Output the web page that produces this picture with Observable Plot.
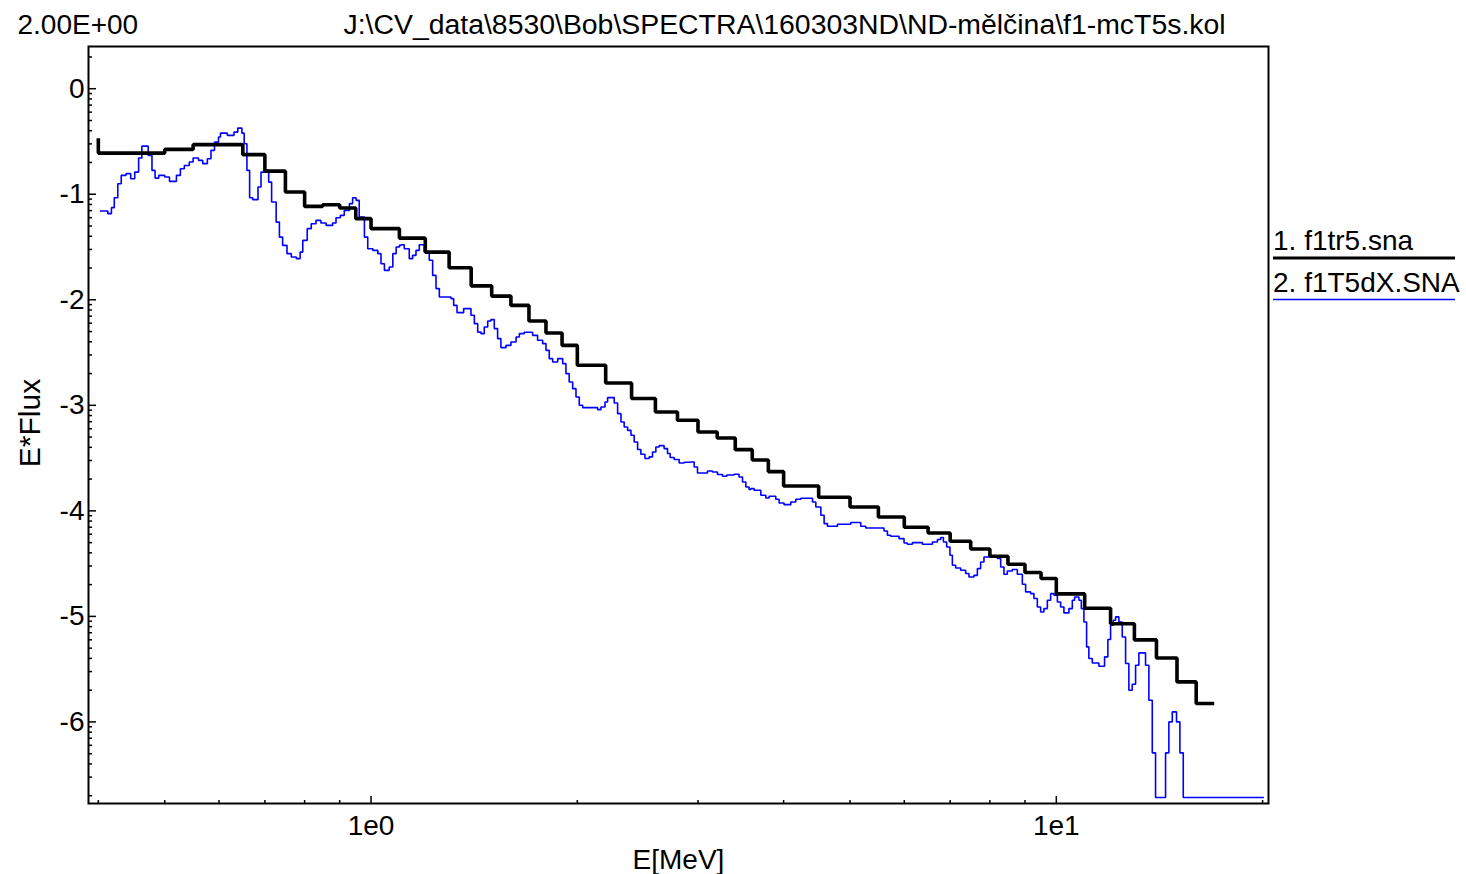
<!DOCTYPE html>
<html><head><meta charset="utf-8">
<script src="https://cdn.jsdelivr.net/npm/d3@7"></script>
<script src="https://cdn.jsdelivr.net/npm/@observablehq/plot@0.6"></script>
<style>html,body{margin:0;padding:0;background:#fff;}#chart{width:1466px;height:874px;}</style>
</head><body><div id="chart"></div>
<script>
// ---- text ----
const scaleText = "2.00E+00";
const titleText = "J:\\CV_data\\8530\\Bob\\SPECTRA\\160303ND\\ND-mělčina\\f1-mcT5s.kol";
const xLabel = "E[MeV]";
const yLabel = "E*Flux";
const seriesNames = ["1. f1tr5.sna", "2. f1T5dX.SNA"];
const seriesColors = ["#000000", "#0000ff"];

// ---- ticks ----
const xMajorTicks = [1, 10];
const xMinorTicks = [0.4, 0.5, 0.6, 0.7, 0.8, 0.9, 2, 3, 4, 5, 6, 7, 8, 9, 20];
const yMajorTicks = [0, -1, -2, -3, -4, -5, -6];
const xDomain = [0.387, 20.4];
const yDomain = [-6.773, 0.40];

// ---- series 1 (black, group edges in MeV, log10 values) ----
const blackEdges = [0.40, 0.40, 0.50, 0.55, 0.65, 0.70, 0.75, 0.80, 0.85, 0.90, 0.95,
  1.0, 1.1, 1.2, 1.3, 1.4, 1.5, 1.6, 1.7, 1.8, 1.9,
  2.0, 2.2, 2.4, 2.6, 2.8, 3.0, 3.2, 3.4, 3.6, 3.8,
  4.0, 4.5, 5.0, 5.5, 6.0, 6.5, 7.0, 7.5, 8.0, 8.5,
  9.0, 9.5, 10, 11, 12, 13, 14, 15, 16, 17];
const blackValues = [-0.47, -0.61, -0.575, -0.53, -0.625, -0.781, -0.979, -1.115, -1.099, -1.131,
  -1.231, -1.326, -1.416, -1.548, -1.697, -1.868, -1.965, -2.053, -2.201, -2.315,
  -2.432, -2.621, -2.789, -2.936, -3.063, -3.142, -3.253, -3.31, -3.42, -3.518,
  -3.628, -3.764, -3.871, -3.963, -4.058, -4.156, -4.21, -4.288, -4.361, -4.43,
  -4.506, -4.584, -4.641, -4.787, -4.923, -5.07, -5.223, -5.394, -5.621, -5.826];

// ---- series 2 (blue, step starts in MeV, log10 values) ----
const blueE = [0.402, 0.413, 0.418, 0.422, 0.427, 0.432, 0.439, 0.446, 0.452, 0.458,
  0.463, 0.473, 0.479, 0.484, 0.490, 0.500, 0.508, 0.520, 0.527, 0.534,
  0.543, 0.550, 0.560, 0.568, 0.577, 0.584, 0.591, 0.599, 0.603, 0.617,
  0.631, 0.639, 0.648, 0.653, 0.659, 0.665, 0.672, 0.684, 0.691, 0.699,
  0.709, 0.716, 0.727, 0.735, 0.743, 0.754, 0.765, 0.778, 0.788, 0.795,
  0.807, 0.818, 0.831, 0.845, 0.860, 0.879, 0.889, 0.902, 0.914, 0.930,
  0.940, 0.951, 0.961, 0.978, 0.989, 1.006, 1.023, 1.034, 1.046, 1.063,
  1.076, 1.088, 1.100,
  1.106, 1.118, 1.137, 1.150, 1.163, 1.176, 1.196, 1.216, 1.230, 1.244,
  1.258, 1.308, 1.320, 1.335, 1.365, 1.399, 1.415, 1.431, 1.447, 1.463,
  1.480, 1.496, 1.513, 1.530, 1.547, 1.574, 1.600, 1.628, 1.646, 1.673,
  1.721, 1.750, 1.780, 1.800, 1.820, 1.841, 1.872, 1.904, 1.925, 1.946,
  1.969, 1.991, 2.013, 2.036, 2.141, 2.165, 2.195, 2.214, 2.264, 2.290,
  2.316, 2.341, 2.368, 2.395, 2.421, 2.449, 2.476, 2.510, 2.546, 2.575,
  2.604, 2.633, 2.677, 2.708, 2.732, 2.769, 2.816, 2.864, 2.929, 2.962,
  2.995, 3.097, 3.150, 3.203, 3.258, 3.305, 3.387, 3.444, 3.484, 3.523,
  3.562,
  3.583, 3.622, 3.705, 3.768, 3.810, 3.896, 3.940, 4.006, 4.098, 4.167,
  4.238, 4.408, 4.457, 4.533, 4.583, 4.635, 4.793, 5.012, 5.183, 5.271,
  5.605, 5.669, 5.733, 5.895, 5.995, 6.063, 6.166, 6.377, 6.595, 6.707,
  6.781, 6.843, 6.918, 6.995, 7.052, 7.130, 7.251, 7.374, 7.456, 7.582,
  7.670, 7.755, 7.842, 7.975, 8.204,
  8.295, 8.387, 8.482, 8.626, 8.772, 8.921, 9.020, 9.173, 9.275, 9.382,
  9.487, 9.592, 9.703, 9.811, 9.920, 10.035, 10.146, 10.259, 10.433, 10.552,
  10.634, 10.789, 10.877, 10.972, 11.071, 11.156, 11.285, 11.537, 11.760, 11.891,
  12.000, 12.109, 12.204, 12.340, 12.480, 12.621, 12.761, 12.906, 13.052, 13.197,
  13.496, 13.648, 13.804, 13.958, 14.435, 14.596, 14.764, 14.977, 15.147, 15.319,
  20.085];
const blueV = [-1.159, -1.184, -1.127, -1.033, -0.900, -0.821, -0.805, -0.853, -0.790, -0.657,
  -0.544, -0.632, -0.774, -0.847, -0.821, -0.837, -0.878, -0.821, -0.758, -0.727,
  -0.695, -0.657, -0.679, -0.710, -0.663, -0.584, -0.506, -0.458, -0.421, -0.442,
  -0.411, -0.373, -0.421, -0.521, -0.774, -1.033, -1.051, -0.932, -0.790, -0.774,
  -0.885, -1.074, -1.264, -1.406, -1.484, -1.563, -1.595, -1.610, -1.548, -1.437,
  -1.326, -1.279, -1.248, -1.273, -1.295, -1.273, -1.222, -1.200, -1.153, -1.089,
  -1.033, -1.058, -1.216, -1.406, -1.516, -1.532, -1.563, -1.658, -1.721, -1.690,
  -1.563, -1.500, -1.484,
  -1.478, -1.516, -1.610, -1.579, -1.532, -1.478, -1.548, -1.626, -1.769, -1.894,
  -1.974, -1.989, -2.053, -2.122, -2.084, -2.147, -2.226, -2.306, -2.321, -2.258,
  -2.201, -2.188, -2.273, -2.368, -2.453, -2.432, -2.400, -2.353, -2.321, -2.308,
  -2.337, -2.384, -2.415, -2.479, -2.558, -2.590, -2.558, -2.605, -2.700, -2.779,
  -2.842, -2.921, -3.000, -3.022, -3.041, -3.016, -2.969, -2.927, -2.978, -3.079,
  -3.158, -3.205, -3.237, -3.284, -3.347, -3.419, -3.464, -3.504, -3.489, -3.442,
  -3.395, -3.382, -3.410, -3.457, -3.495, -3.514, -3.546, -3.540, -3.537, -3.584,
  -3.641, -3.622, -3.632, -3.656, -3.672, -3.660, -3.653, -3.679, -3.726, -3.774,
  -3.798,
  -3.789, -3.805, -3.852, -3.878, -3.862, -3.890, -3.925, -3.941, -3.916, -3.890,
  -3.881, -3.916, -3.963, -4.042, -4.121, -4.146, -4.127, -4.111, -4.146, -4.162,
  -4.191, -4.231, -4.241, -4.263, -4.304, -4.317, -4.301, -4.317, -4.295, -4.272,
  -4.253, -4.295, -4.342, -4.421, -4.515, -4.541, -4.563, -4.594, -4.627, -4.611,
  -4.547, -4.484, -4.437, -4.430, -4.452,
  -4.532, -4.601, -4.570, -4.556, -4.601, -4.695, -4.768, -4.784, -4.831, -4.911,
  -4.958, -4.926, -4.847, -4.784, -4.800, -4.863, -4.911, -4.967, -4.926, -4.847,
  -4.816, -4.847, -4.926, -5.053, -5.289, -5.399, -5.441, -5.472, -5.384, -5.219,
  -5.084, -5.036, -5.005, -5.053, -5.195, -5.447, -5.700, -5.643, -5.463, -5.346,
  -5.463, -5.794, -6.293, -6.716, -6.293, -6.000, -5.905, -6.000, -6.293, -6.716,
  -6.716];

// ---- build tables ----
const blackData = blackEdges.map((e, i) => ({E: e, v: blackValues[Math.min(i, blackValues.length - 1)]}));
const blueData = blueE.map((e, i) => ({E: e, v: blueV[i]}));
const yMinorTicks = [];
for (let n = -7; n <= 0; n++) for (let k = 2; k <= 9; k++) {
  const t = n + Math.log10(k);
  if (t >= yDomain[0] && t <= yDomain[1]) yMinorTicks.push(t);
}

const FONT = "'Liberation Sans', Arial, sans-serif";
const FS = 28;

function legendMark(index, scales, values, dims) {
  const g = d3.create("svg:g").attr("font-family", FONT).attr("font-size", FS).attr("text-anchor", "start");
  const x0 = dims.width - dims.marginRight + 5;
  const rows = [{base: 250, line: 258, w: 3}, {base: 292, line: 299.5, w: 1.5}];
  seriesNames.forEach((name, i) => {
    g.append("text").attr("x", x0).attr("y", rows[i].base).attr("text-anchor", "start").attr("fill", "#000").text(name);
    g.append("line").attr("x1", x0).attr("x2", x0 + 182)
      .attr("y1", rows[i].line).attr("y2", rows[i].line)
      .attr("stroke", seriesColors[i]).attr("stroke-width", rows[i].w);
  });
  return g.node();
}

const chart = Plot.plot({
  width: 1466,
  height: 874,
  marginLeft: 88,
  marginRight: 198,
  marginTop: 46,
  marginBottom: 71,
  style: {fontFamily: FONT, fontSize: FS + "px", background: "#fff", color: "#000"},
  x: {type: "log", domain: xDomain},
  y: {type: "linear", domain: yDomain},
  marks: [
    Plot.line(blueData, {x: "E", y: "v", curve: "step-after", stroke: seriesColors[1], strokeWidth: 1.6, strokeLinejoin: "miter", strokeLinecap: "butt"}),
    Plot.line(blackData, {x: "E", y: "v", curve: "step-after", stroke: seriesColors[0], strokeWidth: 3.6, strokeLinejoin: "miter", strokeLinecap: "butt"}),
    Plot.frame({stroke: "#000", strokeWidth: 2}),
    // y axis
    Plot.axisY(yMajorTicks, {tickSize: -8, fill: "none", label: null, strokeWidth: 1.5}),
    Plot.axisY(yMinorTicks, {tickSize: -4, fill: "none", label: null, strokeWidth: 1.5}),
    Plot.axisY(yMajorTicks, {tickSize: 0, tickPadding: 4, label: null, fontSize: FS, tickFormat: d => d.toString()}),
    // x axis
    Plot.axisX(xMajorTicks, {tickSize: -7, fill: "none", label: null, strokeWidth: 1.5}),
    Plot.axisX(xMinorTicks, {tickSize: -3, fill: "none", label: null, strokeWidth: 1.5}),
    Plot.axisX(xMajorTicks, {tickSize: 0, tickPadding: 12, label: null, fontSize: FS, tickFormat: d => "1e" + Math.round(Math.log10(d))}),
    // labels and titles
    Plot.text([xLabel], {frameAnchor: "bottom", dy: 65, lineAnchor: "bottom", fontSize: FS, fill: "#000"}),
    Plot.text([yLabel], {frameAnchor: "left", dx: -58, dy: -2, rotate: -90, textAnchor: "middle", fontSize: 30, fill: "#000"}),
    Plot.text([scaleText], {frameAnchor: "top-left", dx: -71, dy: -13, textAnchor: "start", lineAnchor: "bottom", fontSize: FS, fill: "#000"}),
    Plot.text([titleText], {frameAnchor: "top-left", dx: 255, dy: -13, textAnchor: "start", lineAnchor: "bottom", fontSize: 28.4, fill: "#000"}),
    legendMark
  ]
});
document.getElementById("chart").appendChild(chart);
</script>
</body></html>
